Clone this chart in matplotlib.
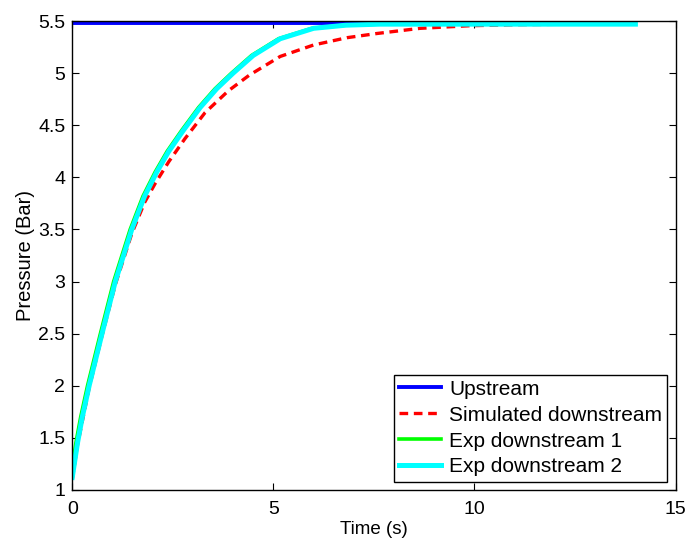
import numpy as np
import matplotlib
matplotlib.use("Agg")
import matplotlib.pyplot as plt

# ---------------------------------------------------------------
# data
# ---------------------------------------------------------------
upstream_t = [0.0, 14.0]
upstream_p = [5.48, 5.48]

sim_t = [0.0, 0.13, 0.42, 0.74, 1.07, 1.48, 1.80, 2.06, 2.40, 2.80, 3.30,
         3.88, 4.40, 5.17, 6.0, 6.83, 7.57, 8.65, 9.89, 11.14, 12.5, 14.0]
sim_p = [1.10, 1.43, 1.98, 2.48, 2.97, 3.46, 3.76, 3.94, 4.15, 4.37, 4.62,
         4.83, 4.98, 5.16, 5.27, 5.34, 5.38, 5.43, 5.455, 5.465, 5.47, 5.47]

exp1_t = [0.0, 0.09, 0.21, 0.38, 0.70, 1.03, 1.44, 1.76, 2.06, 2.36, 2.72,
          3.14, 3.55, 3.96, 4.46, 5.13, 5.96, 6.8, 7.6, 10.0, 14.0]
exp1_p = [1.22, 1.45, 1.70, 2.0, 2.5, 3.0, 3.5, 3.82, 4.05, 4.25, 4.45,
          4.67, 4.85, 5.0, 5.17, 5.33, 5.43, 5.46, 5.47, 5.47, 5.47]

exp2_t = [0.0, 0.13, 0.25, 0.42, 0.74, 1.07, 1.48, 1.80, 2.10, 2.40, 2.76,
          3.18, 3.59, 4.0, 4.5, 5.17, 6.0, 6.8, 7.65, 10.0, 14.0]
exp2_p = [1.12, 1.45, 1.70, 2.0, 2.5, 3.0, 3.5, 3.82, 4.05, 4.25, 4.45,
          4.67, 4.85, 5.0, 5.17, 5.33, 5.43, 5.46, 5.47, 5.47, 5.47]

x_ticks = [0, 5, 10, 15]
y_ticks = [1, 1.5, 2, 2.5, 3, 3.5, 4, 4.5, 5, 5.5]
y_tick_labels = ["1", "1.5", "2", "2.5", "3", "3.5", "4", "4.5", "5", "5.5"]

# ---------------------------------------------------------------
# figure
# ---------------------------------------------------------------
plt.rcParams['font.family'] = ['Liberation Sans', 'DejaVu Sans']

fig = plt.figure(figsize=(6.88, 5.39), dpi=100)
ax = fig.add_axes([0.105, 0.091, 0.877, 0.870])

ax.plot(upstream_t, upstream_p, color='#0000ff', lw=2.8, label='Upstream')
ax.plot(sim_t, sim_p, color='#ff0000', lw=2.4, ls=(0, (2.6, 1.7)),
        label='Simulated downstream')
ax.plot(exp1_t, exp1_p, color='#00ff00', lw=2.6, label='Exp downstream 1')
ax.plot(exp2_t, exp2_p, color='#00ffff', lw=3.6, label='Exp downstream 2')

ax.set_xlim(0, 15)
ax.set_ylim(1, 5.5)
ax.set_xticks(x_ticks)
ax.set_yticks(y_ticks)
ax.set_yticklabels(y_tick_labels)

ax.tick_params(direction='in', top=True, right=True, length=5, width=0.8,
               labelsize=14)
ax.tick_params(axis='x', pad=8)
ax.tick_params(axis='y', pad=5)
for s in ax.spines.values():
    s.set_linewidth(1.0)

ax.set_xlabel('Time (s)', fontsize=13.5, labelpad=2)
ax.set_ylabel('Pressure (Bar)', fontsize=14.5, labelpad=2)

leg = ax.legend(loc='lower right', fontsize=15, frameon=True, fancybox=False,
                edgecolor='black', borderaxespad=0.4, handlelength=2.0,
                handletextpad=0.4, labelspacing=0.33, borderpad=0.25)
leg.get_frame().set_linewidth(1.0)
leg.get_frame().set_alpha(1)

fig.savefig('out.png', dpi=100)
